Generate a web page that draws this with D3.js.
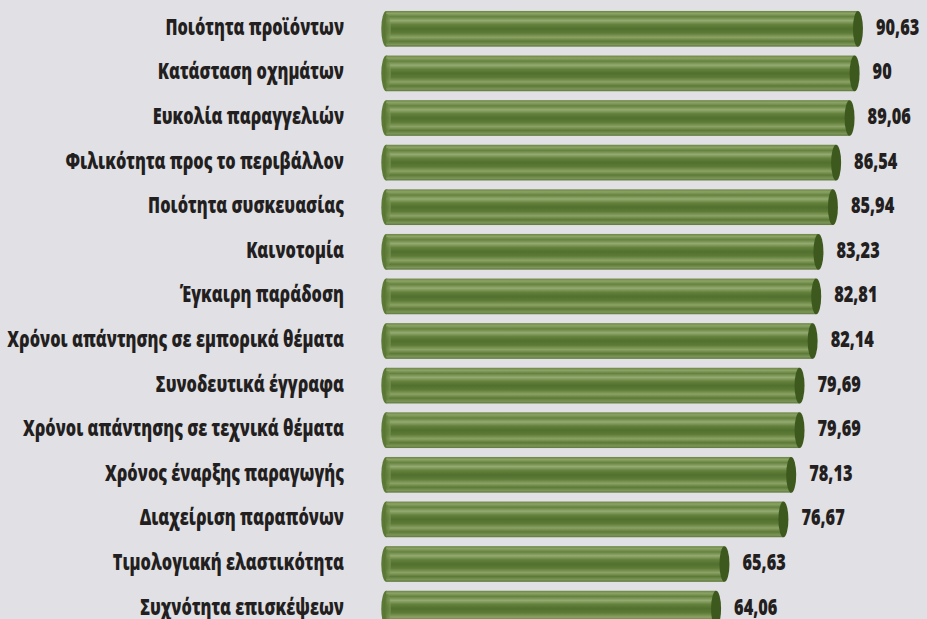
<!DOCTYPE html>
<html>
<head>
<meta charset="utf-8">
<script src="https://cdn.jsdelivr.net/npm/d3@7"></script>
<style>
  html, body { margin: 0; padding: 0; background: #e1e0e5; }
  svg { display: block; }
  .lbl { font-family: 'Open Sans', 'Noto Sans', sans-serif; font-weight: 800; font-size: 22px; fill: #231f20; }
</style>
</head>
<body>
<svg class="chart"></svg>
<script>
const W = 927;
const H = 619;

// Categories (top to bottom) and their scores
var categories = [
    "Ποιότητα προϊόντων",
    "Κατάσταση οχημάτων",
    "Ευκολία παραγγελιών",
    "Φιλικότητα προς το περιβάλλον",
    "Ποιότητα συσκευασίας",
    "Καινοτομία",
    "Έγκαιρη παράδοση",
    "Χρόνοι απάντησης σε εμπορικά θέματα",
    "Συνοδευτικά έγγραφα",
    "Χρόνοι απάντησης σε τεχνικά θέματα",
    "Χρόνος έναρξης παραγωγής",
    "Διαχείριση παραπόνων",
    "Τιμολογιακή ελαστικότητα",
    "Συχνότητα επισκέψεων"
];
var values = [90.63, 90, 89.06, 86.54, 85.94, 83.23, 82.81, 82.14, 79.69, 79.69, 78.13, 76.67, 65.63, 64.06];
var valueLabels = ["90,63", "90", "89,06", "86,54", "85,94", "83,23", "82,81", "82,14", "79,69", "79,69", "78,13", "76,67", "65,63", "64,06"];

var data = categories.map((c, i) => ({cat: c, value: values[i], label: valueLabels[i]}));

var svg = d3.select('.chart')
    .attr("width", W)
    .attr("height", H);

var scaleX = d3.scaleLinear()
    .domain([0, 100])
    .range([374, 908]);

var scaleY = d3.scaleBand()
    .domain(categories)
    .range([6.5, 6.5 + 44.6 * categories.length])
    .paddingInner(0.2)
    .paddingOuter(0.1);

const barStart = 2.3;   // left cap sits a little right of zero
const capRx = 5;
const labelRight = 344;
const longestLabel = 337; // width of the longest category label in the original

// Cylinder shading
var defs = svg.append("defs");
var grad = defs.append("linearGradient")
    .attr("id", "tube")
    .attr("x1", 0).attr("y1", 0).attr("x2", 0).attr("y2", 1);
[
    [0, "#6b8543"], [0.07, "#8ba366"], [0.16, "#65823e"], [0.27, "#94aa71"],
    [0.38, "#64823c"], [0.5, "#52702e"], [0.62, "#5e7c37"], [0.74, "#8ba265"],
    [0.85, "#5d7a36"], [0.94, "#7c955a"], [1, "#5d7838"]
].forEach(s => grad.append("stop").attr("offset", s[0]).attr("stop-color", s[1]));

var capGrad = defs.append("linearGradient")
    .attr("id", "cap")
    .attr("x1", 0).attr("y1", 0).attr("x2", 1).attr("y2", 0);
capGrad.append("stop").attr("offset", 0).attr("stop-color", "#55722f");
capGrad.append("stop").attr("offset", 0.6).attr("stop-color", "#6a8744");
capGrad.append("stop").attr("offset", 1).attr("stop-color", "#7f9858");

var rows = svg.append("g").selectAll("g")
    .data(data)
    .join("g")
    .attr("transform", d => "translate(0," + scaleY(d.cat) + ")");

var bh = scaleY.bandwidth();

// left cap (open end)
rows.append("ellipse")
    .attr("cx", scaleX(barStart))
    .attr("cy", bh / 2)
    .attr("rx", capRx)
    .attr("ry", bh / 2)
    .attr("fill", "#5b7834");

// body
rows.append("rect")
    .attr("x", scaleX(barStart))
    .attr("y", 0)
    .attr("width", d => scaleX(d.value) - scaleX(barStart))
    .attr("height", bh)
    .attr("fill", "url(#tube)");

// inner rim of the open end
rows.append("ellipse")
    .attr("cx", scaleX(barStart) + 1)
    .attr("cy", bh / 2)
    .attr("rx", capRx - 1.5)
    .attr("ry", bh / 2 - 3)
    .attr("fill", "url(#cap)")
    .attr("opacity", 0.75);

// right cap
rows.append("ellipse")
    .attr("cx", d => scaleX(d.value))
    .attr("cy", bh / 2)
    .attr("rx", capRx)
    .attr("ry", bh / 2)
    .attr("fill", "#3d591d");

// category labels
var catText = rows.append("text")
    .attr("class", "lbl")
    .attr("dy", "0.32em")
    .attr("text-anchor", "end")
    .text(d => d.cat);

// squeeze the font horizontally so it reads like a condensed face
var maxW = d3.max(catText.nodes(), n => n.getComputedTextLength());
var squeeze = longestLabel / maxW;

catText.attr("transform", "translate(" + labelRight + "," + (bh / 2 - 1) + ") scale(" + squeeze + ",1)");

// value labels
rows.append("text")
    .attr("class", "lbl")
    .attr("dy", "0.32em")
    .attr("transform", d => "translate(" + (scaleX(d.value) + capRx + 13) + "," + (bh / 2 - 1) + ") scale(" + squeeze + ",1)")
    .text(d => d.label);
</script>
</body>
</html>
